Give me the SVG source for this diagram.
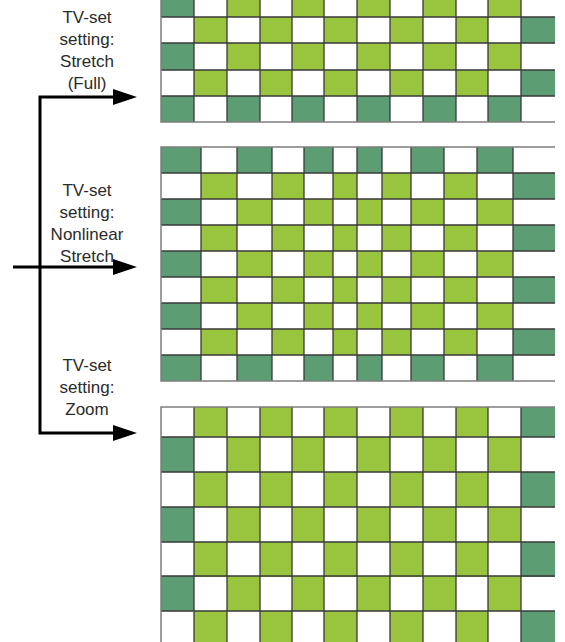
<svg xmlns="http://www.w3.org/2000/svg" width="565" height="642" viewBox="0 0 565 642">
<defs>
<style>
.d{fill:#5c9d73}
.l{fill:#98c43e}
.g{fill:none;stroke:#3a3a3a;stroke-width:1.3}
.b{fill:none;stroke:#7d7d7d;stroke-width:1.5}
.t{font-family:"Liberation Sans",Arial,sans-serif;font-size:17px;fill:#2b2b2b;text-anchor:middle}
.c{fill:none;stroke:#000;stroke-width:3;stroke-linejoin:miter}
</style>
<marker id="ah" markerUnits="userSpaceOnUse" markerWidth="24" markerHeight="16" viewBox="0 0 24 16" refX="12" refY="8" orient="auto">
<path d="M0,0 L24,8 L0,16 Z" fill="#000"/>
</marker>
</defs>
<rect width="565" height="642" fill="#fff"/>

<g id="grid-stretch-full">
<rect class="d" x="161" y="-9" width="33" height="26"/>
<rect class="l" x="227" y="-9" width="33" height="26"/>
<rect class="l" x="292" y="-9" width="32" height="26"/>
<rect class="l" x="357" y="-9" width="33" height="26"/>
<rect class="l" x="423" y="-9" width="33" height="26"/>
<rect class="l" x="488" y="-9" width="33" height="26"/>
<rect class="l" x="194" y="17" width="33" height="26"/>
<rect class="l" x="260" y="17" width="32" height="26"/>
<rect class="l" x="324" y="17" width="33" height="26"/>
<rect class="l" x="390" y="17" width="33" height="26"/>
<rect class="l" x="456" y="17" width="32" height="26"/>
<rect class="d" x="521" y="17" width="34" height="26"/>
<rect class="d" x="161" y="43" width="33" height="27"/>
<rect class="l" x="227" y="43" width="33" height="27"/>
<rect class="l" x="292" y="43" width="32" height="27"/>
<rect class="l" x="357" y="43" width="33" height="27"/>
<rect class="l" x="423" y="43" width="33" height="27"/>
<rect class="l" x="488" y="43" width="33" height="27"/>
<rect class="l" x="194" y="70" width="33" height="26"/>
<rect class="l" x="260" y="70" width="32" height="26"/>
<rect class="l" x="324" y="70" width="33" height="26"/>
<rect class="l" x="390" y="70" width="33" height="26"/>
<rect class="l" x="456" y="70" width="32" height="26"/>
<rect class="d" x="521" y="70" width="34" height="26"/>
<rect class="d" x="161" y="96" width="33" height="26"/>
<rect class="d" x="227" y="96" width="33" height="26"/>
<rect class="d" x="292" y="96" width="32" height="26"/>
<rect class="d" x="357" y="96" width="33" height="26"/>
<rect class="d" x="423" y="96" width="33" height="26"/>
<rect class="d" x="488" y="96" width="33" height="26"/>
<path class="g" d="M194,0V122M227,0V122M260,0V122M292,0V122M324,0V122M357,0V122M390,0V122M423,0V122M456,0V122M488,0V122M521,0V122M161,17H555M161,43H555M161,70H555M161,96H555"/>
<path class="b" d="M161,0V122H555"/>
</g>

<g id="grid-nonlinear-stretch">
<rect class="d" x="161" y="147" width="40" height="26"/>
<rect class="d" x="237" y="147" width="35" height="26"/>
<rect class="d" x="304" y="147" width="29" height="26"/>
<rect class="d" x="357" y="147" width="25" height="26"/>
<rect class="d" x="411" y="147" width="33" height="26"/>
<rect class="d" x="477" y="147" width="36" height="26"/>
<g id="mrowA">
<rect class="l" x="201" y="173" width="36" height="26"/>
<rect class="l" x="272" y="173" width="32" height="26"/>
<rect class="l" x="333" y="173" width="24" height="26"/>
<rect class="l" x="382" y="173" width="29" height="26"/>
<rect class="l" x="444" y="173" width="33" height="26"/>
<rect class="d" x="513" y="173" width="42" height="26"/>
</g>
<g id="mrowB">
<rect class="d" x="161" y="199" width="40" height="26"/>
<rect class="l" x="237" y="199" width="35" height="26"/>
<rect class="l" x="304" y="199" width="29" height="26"/>
<rect class="l" x="357" y="199" width="25" height="26"/>
<rect class="l" x="411" y="199" width="33" height="26"/>
<rect class="l" x="477" y="199" width="36" height="26"/>
</g>
<use href="#mrowA" y="52"/>
<use href="#mrowB" y="52"/>
<use href="#mrowA" y="104"/>
<use href="#mrowB" y="104"/>
<use href="#mrowA" y="156"/>
<rect class="d" x="161" y="355" width="40" height="26"/>
<rect class="d" x="237" y="355" width="35" height="26"/>
<rect class="d" x="304" y="355" width="29" height="26"/>
<rect class="d" x="357" y="355" width="25" height="26"/>
<rect class="d" x="411" y="355" width="33" height="26"/>
<rect class="d" x="477" y="355" width="36" height="26"/>
<path class="g" d="M201,147V381M237,147V381M272,147V381M304,147V381M333,147V381M357,147V381M382,147V381M411,147V381M444,147V381M477,147V381M513,147V381M161,173H555M161,199H555M161,225H555M161,251H555M161,277H555M161,303H555M161,329H555M161,355H555"/>
<path class="b" d="M555,147H161V381H555"/>
</g>

<g id="grid-zoom">
<g id="zrowA">
<rect class="l" x="194" y="407" width="33" height="30"/>
<rect class="l" x="260" y="407" width="32" height="30"/>
<rect class="l" x="324" y="407" width="33" height="30"/>
<rect class="l" x="390" y="407" width="33" height="30"/>
<rect class="l" x="456" y="407" width="32" height="30"/>
<rect class="d" x="521" y="407" width="34" height="30"/>
</g>
<g id="zrowB">
<rect class="d" x="161" y="437" width="33" height="35"/>
<rect class="l" x="227" y="437" width="33" height="35"/>
<rect class="l" x="292" y="437" width="32" height="35"/>
<rect class="l" x="357" y="437" width="33" height="35"/>
<rect class="l" x="423" y="437" width="33" height="35"/>
<rect class="l" x="488" y="437" width="33" height="35"/>
</g>
<g id="zrowA2">
<rect class="l" x="194" y="472" width="33" height="35"/>
<rect class="l" x="260" y="472" width="32" height="35"/>
<rect class="l" x="324" y="472" width="33" height="35"/>
<rect class="l" x="390" y="472" width="33" height="35"/>
<rect class="l" x="456" y="472" width="32" height="35"/>
<rect class="d" x="521" y="472" width="34" height="35"/>
</g>
<use href="#zrowB" y="70"/>
<use href="#zrowA2" y="70"/>
<use href="#zrowB" y="139"/>
<use href="#zrowA2" y="139"/>
<path class="g" d="M194,407V642M227,407V642M260,407V642M292,407V642M324,407V642M357,407V642M390,407V642M423,407V642M456,407V642M488,407V642M521,407V642M161,437H555M161,472H555M161,507H555M161,542H555M161,576H555M161,611H555"/>
<path class="b" d="M555,407H161V642"/>
</g>

<g id="connectors">
<path class="c" d="M40,265V97H125" marker-end="url(#ah)"/>
<path class="c" d="M40,265V433H125" marker-end="url(#ah)"/>
<path class="c" d="M13,267H125" marker-end="url(#ah)"/>
</g>

<g id="label-stretch-full">
<text class="t" x="87" y="23">TV-set</text>
<text class="t" x="87" y="45">setting:</text>
<text class="t" x="87" y="67">Stretch</text>
<text class="t" x="87" y="89">(Full)</text>
</g>
<g id="label-nonlinear-stretch">
<text class="t" x="87" y="196">TV-set</text>
<text class="t" x="87" y="218">setting:</text>
<text class="t" x="87" y="240">Nonlinear</text>
<text class="t" x="87" y="262">Stretch</text>
</g>
<g id="label-zoom">
<text class="t" x="87" y="371">TV-set</text>
<text class="t" x="87" y="393">setting:</text>
<text class="t" x="87" y="415">Zoom</text>
</g>
</svg>
